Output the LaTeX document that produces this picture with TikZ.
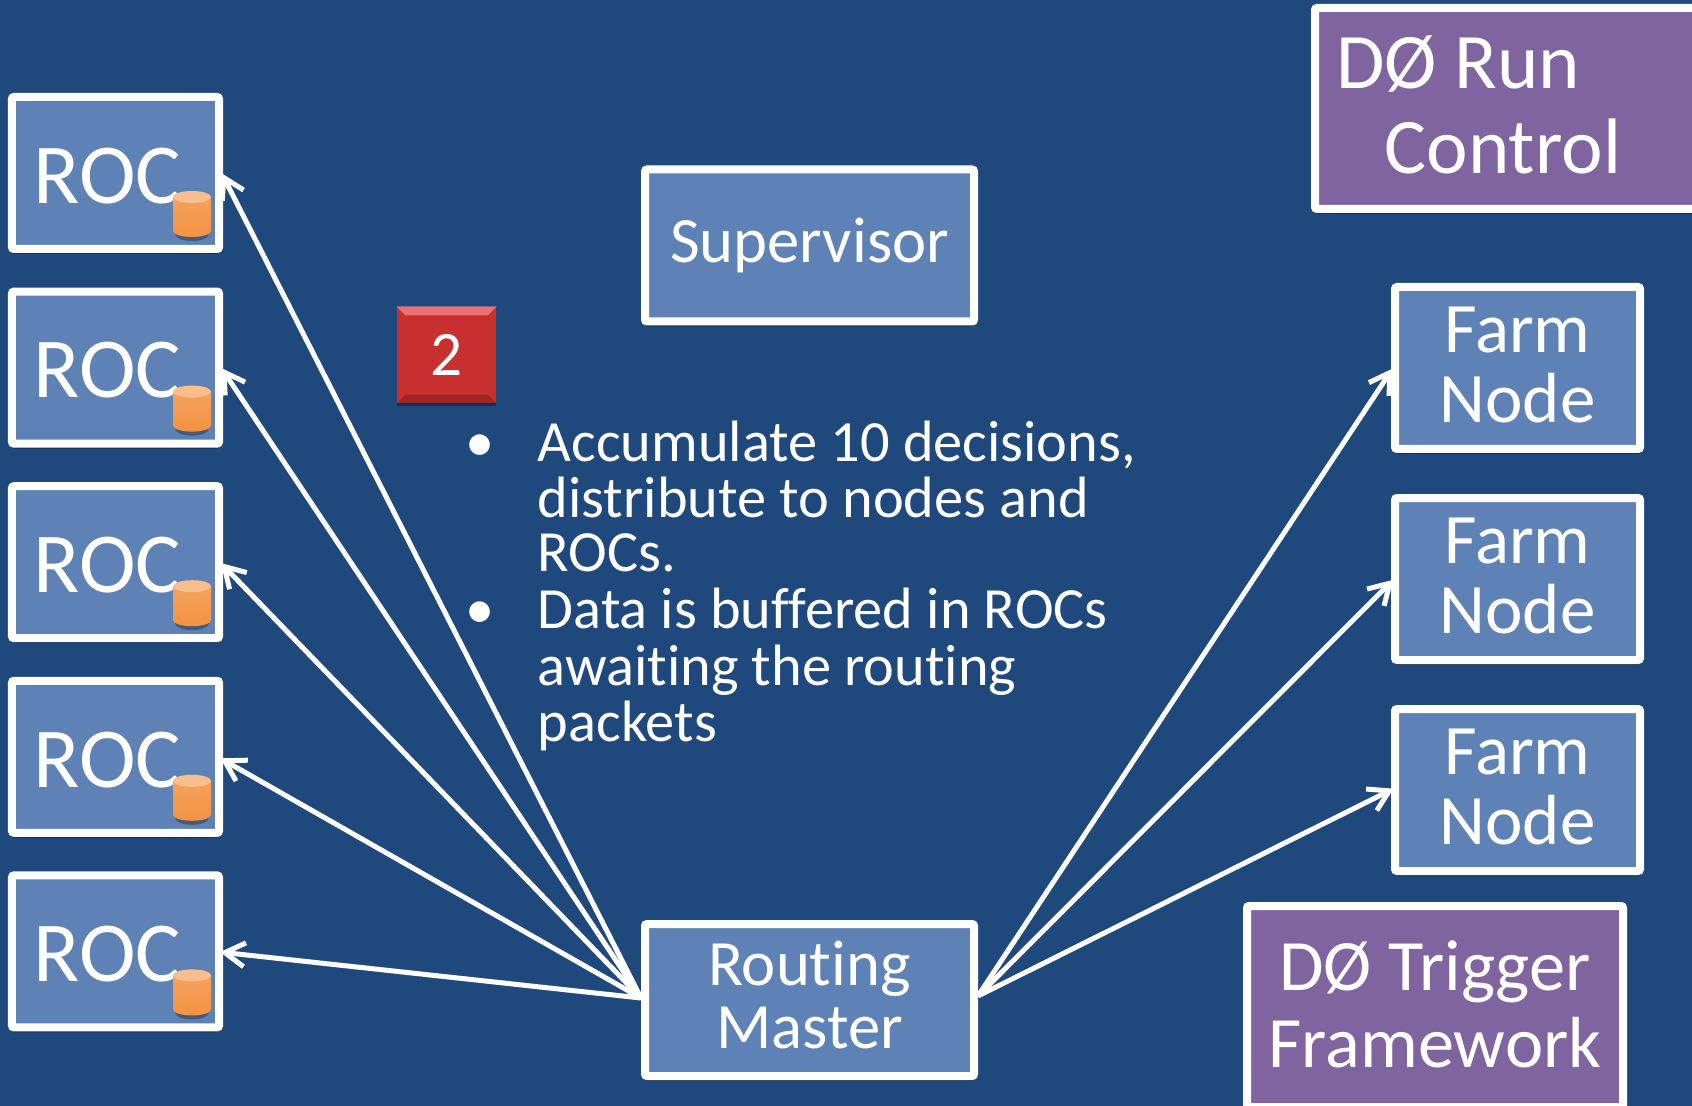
\documentclass[tikz,border=0pt]{standalone}
\usepackage{fontspec}
\setmainfont{Carlito}[Ligatures=CommonOff]
\usetikzlibrary{shapes.geometric,arrows.meta,calc,shadows}
\definecolor{slide}{RGB}{31,73,125}
\definecolor{boxblue}{RGB}{94,130,181}
\definecolor{boxpurple}{RGB}{128,100,160}
\definecolor{canbody}{RGB}{243,146,66}
\definecolor{cantop}{RGB}{248,190,140}
\definecolor{badgered}{RGB}{200,48,48}
\tikzset{%
  block/.style    = {draw=white, line width=0.08cm, rectangle, rounded corners=0.02cm,
    fill=boxblue, text=white, align=center, inner sep=0pt,
    drop shadow={shadow xshift=0cm, shadow yshift=-0.05cm, fill=black, opacity=0.3}},
  roc/.style      = {block, minimum width=2.07cm, minimum height=1.52cm, text height=0.61cm,
    font=\fontsize{24.3}{26}\selectfont}, % Readout crate
  farm/.style     = {block, minimum width=2.45cm, minimum height=1.62cm, text depth=0.06cm,
    font=\fontsize{20.2}{19.9}\selectfont}, % Farm node
  wide/.style     = {block, minimum width=3.29cm, minimum height=1.52cm,
    font=\fontsize{18.4}{17.8}\selectfont}, % Supervisor, routing master
  run/.style      = {block, fill=boxpurple, minimum height=2.01cm}, % Outside systems
  link/.style     = {draw=white, line width=0.05cm, shorten >=-0.03cm,
    -{Straight Barb[length=0.2cm, width=0.24cm]}}
}
\newcommand{\rocdisk}[2]{%
  \coordinate (#2) at ($(#1)+(0.765,-0.41)$);
  \fill[black, opacity=0.3] ($(#2)+(0,-0.2)$) ellipse (0.17 and 0.07);
  \shade[top color=canbody!85!white, bottom color=canbody] ($(#2)+(-0.19,0.17)$)
    -- ++(0,-0.34) arc (180:360:0.19 and 0.06) -- ++(0,0.34) -- cycle;
  \fill[cantop] ($(#2)+(0,0.17)$) ellipse (0.19 and 0.06);}
\renewcommand{\arraystretch}{0.985}
\begin{document}
\begin{tikzpicture}[node distance=1.946cm]
        \clip (0,0) rectangle (16.92,-11.06);
        \fill[slide] (0,0) rectangle (16.92,-11.06);
        \useasboundingbox (0,0) rectangle (16.92,-11.06);
        \draw
            node [roc] at (1.155,-1.73) (roc1) {ROC\hspace{0.16cm}}
            node [roc, below of=roc1] (roc2) {ROC\hspace{0.16cm}}
            node [roc, below of=roc2] (roc3) {ROC\hspace{0.16cm}}
            node [roc, below of=roc3] (roc4) {ROC\hspace{0.16cm}}
            node [roc, below of=roc4] (roc5) {ROC\hspace{0.16cm}}
            node [wide] at (8.095,-2.455) (super) {Supervisor}
            node [wide, text depth=0.11cm] at (8.095,-10.0) (master) {Routing\\Master}
            node [farm] at (15.175,-3.68) (farm1) {Farm\\Node}
            node [farm, below of=farm1, node distance=2.11cm] (farm2) {Farm\\Node}
            node [farm, below of=farm2, node distance=2.11cm] (farm3) {Farm\\Node}
            node [run, minimum width=3.85cm, text depth=0.08cm,
              font=\fontsize{22.4}{24}\selectfont] at (15.075,-1.085) (runctl)
              {D\O{} Run\hspace*{0.99cm}\\Control\hspace*{0.09cm}}
            node [run, minimum width=3.76cm, text depth=0.05cm,
              font=\fontsize{20.6}{21.9}\selectfont] at (14.35,-10.065) (trig)
              {D\O{} Trigger\\Framework};

        \rocdisk{roc1}{can1}
        \rocdisk{roc2}{can2}
        \rocdisk{roc3}{can3}
        \rocdisk{roc4}{can4}
        \rocdisk{roc5}{can5}

        \draw[link] ([yshift=0.02cm]master.west) -- ([yshift=-0.03cm]roc1.east);
        \draw[link] ([yshift=0.02cm]master.west) -- ([yshift=-0.03cm]roc2.east);
        \draw[link] ([yshift=0.02cm]master.west) -- ([yshift=-0.03cm]roc3.east);
        \draw[link] ([yshift=0.02cm]master.west) -- ([yshift=-0.03cm]roc4.east);
        \draw[link] ([yshift=0.02cm]master.west) -- ([yshift=-0.01cm]roc5.east);
        \draw[link] ([yshift=0.04cm]master.east) -- ([yshift=-0.03cm]farm1.west);
        \draw[link] ([yshift=0.04cm]master.east) -- ([yshift=-0.03cm]farm2.west);
        \draw[link] ([yshift=0.04cm]master.east) -- (farm3.west);

        \node[fill=badgered, text=white, minimum width=0.99cm, minimum height=0.96cm,
          inner sep=0pt, font=\fontsize{18}{18}\selectfont,
          drop shadow={shadow xshift=0cm, shadow yshift=-0.03cm, fill=black, opacity=0.3}]
          at (4.465,-3.55) (badge) {2};
        \fill[red!45!white, opacity=0.7] (badge.north west) -- (badge.north east)
          -- ++(-0.09,-0.09) -- ($(badge.north west)+(0.09,-0.09)$) -- cycle;
        \fill[black, opacity=0.2] (badge.south west) -- (badge.south east)
          -- ++(-0.09,0.09) -- ($(badge.south west)+(0.09,0.09)$) -- cycle;

        \node[anchor=north west, text=white, inner sep=0pt, font=\fontsize{16.6}{15.55}\selectfont]
          at (4.65,-4.2) (notes) {%
            \begin{tabular}{@{}l@{\hspace{0.43cm}}l@{}}
            \textbullet & Accumulate 10 decisions,\\
             & distribute to nodes and\\
             & ROCs.\\
            \textbullet & Data is buffered in ROCs\\
             & awaiting the routing\\
             & packets
            \end{tabular}};
\end{tikzpicture}
\end{document}
